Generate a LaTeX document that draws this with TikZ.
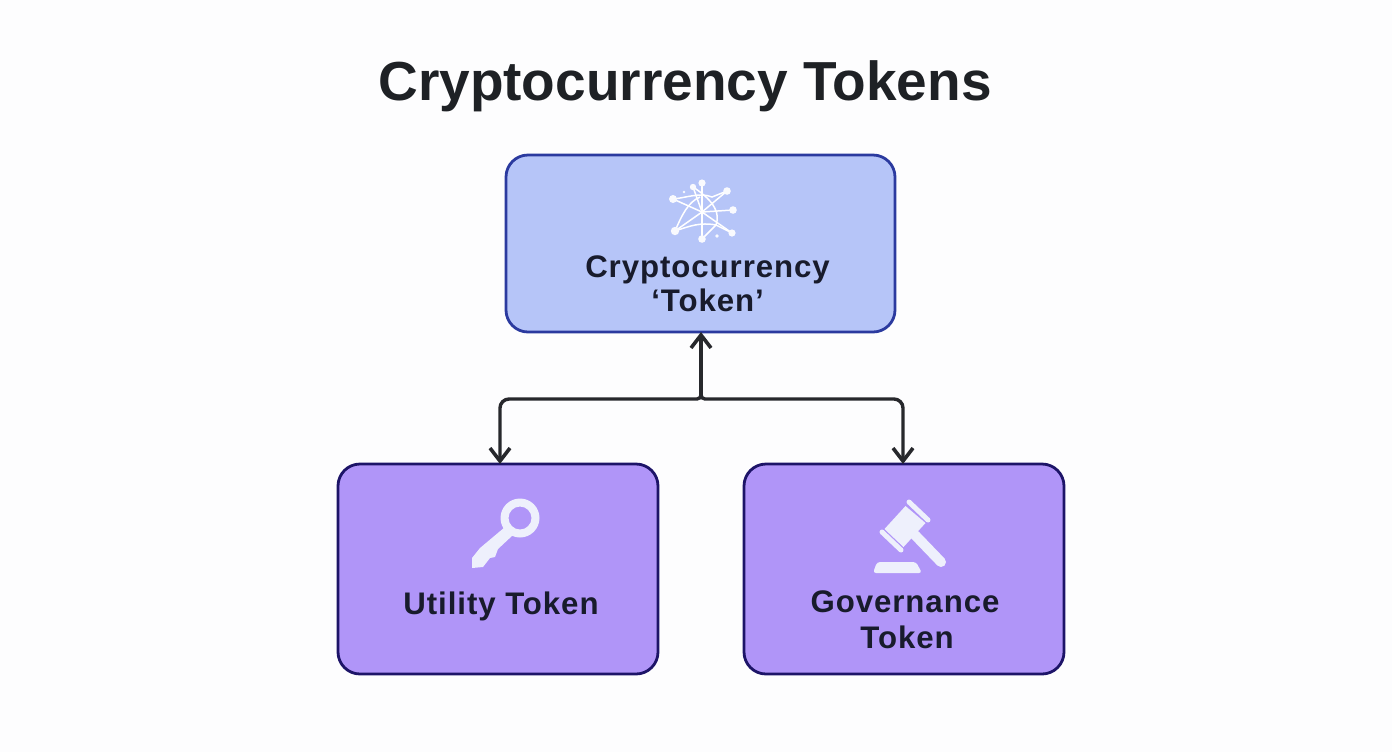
\documentclass[tikz,border=0pt]{standalone}
\usepackage{fontspec}
\setmainfont{Liberation Sans}
\usetikzlibrary{arrows.meta}
\definecolor{bgc}{HTML}{FDFDFE}
\definecolor{topfill}{HTML}{B6C5F8}
\definecolor{topedge}{HTML}{2B3A9F}
\definecolor{leaffill}{HTML}{B095F8}
\definecolor{leafedge}{HTML}{1D1468}
\definecolor{ink}{HTML}{181B2C}
\definecolor{titleink}{HTML}{1E2125}
\definecolor{arrowc}{HTML}{27282C}
\definecolor{iconc}{HTML}{EEF0FC}
\tikzset{
  x=0.5pt,y=-0.5pt,
  box/.style={draw,line width=1.4pt,rounded corners=11pt,inner sep=0pt,outer sep=0pt},
  topbox/.style={box,fill=topfill,draw=topedge,minimum width=194.5pt,minimum height=88.5pt},
  leafbox/.style={box,fill=leaffill,draw=leafedge,minimum width=160pt,minimum height=105pt},
  label/.style={inner sep=0pt,anchor=base,text=ink,font=\bfseries\fontsize{15.6pt}{18pt}\selectfont\addfontfeatures{LetterSpace=3}},
  link/.style={draw=arrowc,line width=1.7pt},
  barb/.style={-{Straight Barb[length=6.5pt,width=10pt,line width=1.8pt]}},
  webline/.style={draw=white,line width=0.75pt},
  webdot/.style={fill=white!92!topfill},
}
\begin{document}
\begin{tikzpicture}
\useasboundingbox (0,0) rectangle (1392,752);
\fill[bgc] (0,0) rectangle (1392,752);
\node[inner sep=0pt,anchor=base,text=titleink,font=\bfseries\fontsize{27.5pt}{32pt}\selectfont] (title) at (685,100) {Cryptocurrency Tokens};
\node[topbox] (top) at (700.5,243.5) {};
\node[leafbox] (util) at (498,569) {};
\node[leafbox] (gov) at (904,569) {};
% network icon
\coordinate (hub) at (702,212);
\foreach \p in {(702,183),(693,187),(727,191),(673,199),(733,210),(675,231),(702,239),(732,233)}
  \draw[webline] (hub) -- \p;
\draw[webline] (693,187) .. controls (705,195) and (722,208) .. (716,225) -- (702,239);
\draw[webline] (673,199) .. controls (685,198) and (700,192) .. (712,197) -- (727,191);
\draw[webline] (675,231) .. controls (682,215) and (688,202) .. (700,197);
\draw[webline] (675,231) .. controls (690,226) and (700,222) .. (716,225);
\draw[webline] (716,225) -- (732,233);
\foreach \p/\r in {(702,183)/3.6,(693,187)/3.2,(727,191)/3.8,(673,199)/4,(733,210)/3.8,(675,231)/4.2,(702,239)/3.8,(732,233)/3.6,(684,192)/1.3,(717,236)/1.8}
  \fill[webdot] \p circle[radius=\r];
% key icon
\fill[iconc,even odd rule] (520,518) circle[radius=19.5] (520,518) circle[radius=11.5];
\fill[iconc] (505,527) -- (480,548) -- (472,558) -- (472,568) -- (483,567) -- (490,558) -- (495,557) -- (498,549) -- (513,535) -- cycle;
% gavel icon
\fill[iconc] (905.5,506) -- (925.5,523) -- (903.5,547) -- (884.5,529) -- cycle;
\draw[iconc,line width=2.5pt,line cap=round] (909,502) -- (928,520);
\draw[iconc,line width=2.5pt,line cap=round] (882,532) -- (901,550);
\draw[iconc,line width=5pt,line cap=round] (915,535) -- (941,562);
\fill[iconc,rounded corners=1.5pt] (877,562) -- (916,562) -- (922,573) -- (873,573) -- cycle;
% labels
\node[label] (l1) at (707.5,277) {Cryptocurrency};
\node[label] (l2) at (707.5,311) {‘Token’};
\node[label] (l3) at (501,614) {Utility Token};
\node[label] (l4) at (905,612) {Governance};
\node[label] (l5) at (907,648) {Token};
% connectors
\coordinate (stem) at ([xshift=0.25pt]top.south);
\coordinate (junction) at (stem |- 0,399);
\coordinate (stemtop) at (stem |- 0,385);
\draw[link,barb] (junction) -- (stem);
\draw[link,barb] (stemtop) [rounded corners=2pt] -- (junction) [rounded corners=4.5pt] -- ([xshift=1pt]util.north |- junction) -- ([xshift=1pt]util.north);
\draw[link,barb] (stemtop) [rounded corners=2pt] -- (junction) [rounded corners=4.5pt] -- ([xshift=-0.5pt]gov.north |- junction) -- ([xshift=-0.5pt]gov.north);
\end{tikzpicture}
\end{document}
